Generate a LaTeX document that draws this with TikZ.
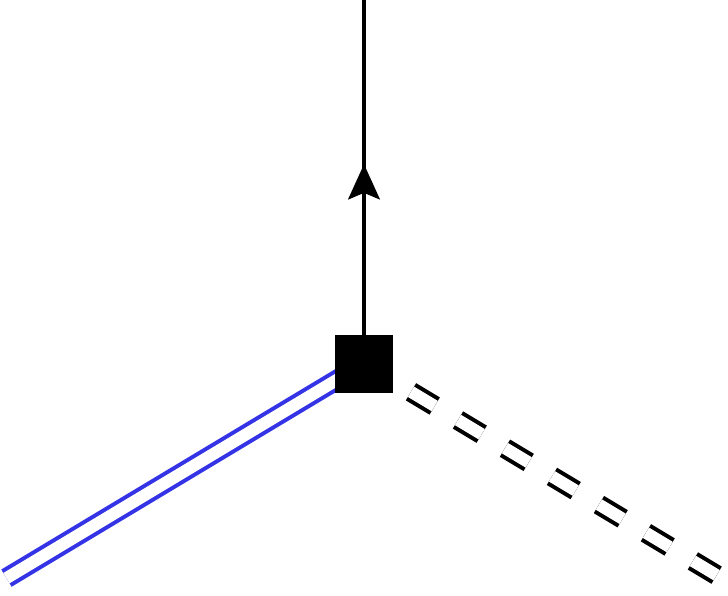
\documentclass[tikz,border=0pt]{standalone}
\usetikzlibrary{arrows.meta,decorations.markings}
\definecolor{doubleblue}{RGB}{52,52,230}
\tikzset{
    fermion/.style = {draw, postaction = {decorate},
        decoration = {markings, mark = at position 0.5 with
            {\arrow[xshift = 3.5pt]{Stealth[length = 7pt, width = 6.3pt, inset = 1.3pt]}}}},
    bluedouble/.style = {draw = doubleblue, double = white, double distance = 2.4pt},
    dashdouble/.style = {draw, double = white, double distance = 2.4pt,
        dash pattern = on 5.5pt off 5.4pt},
    sqvertex/.style = {rectangle, fill, minimum size = 0.405cm, inner sep = 0pt}
}
\begin{document}
\begin{tikzpicture}[line width = 0.8pt]
    \useasboundingbox (-2.545, -1.62) rectangle (2.545, 2.542);

    \coordinate (vtx) at (0, 0);
    \coordinate (top) at (0, 2.542);
    \coordinate (left) at (-2.5, -1.5);
    \coordinate (right) at (2.5, -1.5);

    \path[fermion] (vtx) -- (top);
    \path[bluedouble] (vtx) -- (left);
    \path[dashdouble] (vtx) -- (right);

    \node[sqvertex] (sq) at (vtx) {};
\end{tikzpicture}
\end{document}
